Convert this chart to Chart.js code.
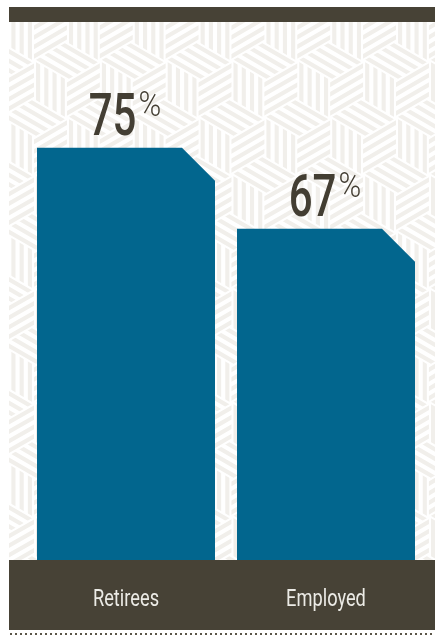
<!DOCTYPE html>
<html>
<head>
<meta charset="utf-8">
<script src="https://cdn.jsdelivr.net/npm/chart.js"></script>
<style>
  html, body { margin: 0; padding: 0; background: #ffffff; }
  #wrap { width: 435px; height: 636px; }
</style>
</head>
<body>
<div id="wrap"><canvas id="barChart" width="435" height="636"></canvas></div>
<script>
// 1. Data
const categories = ["Retirees", "Employed"];
const percentValues = [75, 67];

// 2. Colours
const DARK = "#474236";
const BAR_BLUE = "#02668e";
const STRIPE = "#f1efeb";
const NUM_COLOR = "#433e33";
const LABEL_COLOR = "#ecebe6";

// 3. Background pattern (tumbling blocks with stripes)
function stripeFace(ctx, pts, ax, ay, dx, dy, p, s) {
    ctx.save();
    ctx.beginPath();
    ctx.moveTo(pts[0][0], pts[0][1]);
    for (let i = 1; i < pts.length; i++) ctx.lineTo(pts[i][0], pts[i][1]);
    ctx.closePath();
    ctx.clip();
    const nx = -dy, ny = dx;
    ctx.beginPath();
    for (let k = -8; k <= 8; k++) {
        const mx = ax + nx * (k + 0.5) * p;
        const my = ay + ny * (k + 0.5) * p;
        ctx.moveTo(mx - dx * 2 * s, my - dy * 2 * s);
        ctx.lineTo(mx + dx * 2 * s, my + dy * 2 * s);
    }
    ctx.stroke();
    ctx.restore();
}

function drawCube(ctx, cx, cy, s, w, p) {
    const T = [cx, cy - s], UR = [cx + w / 2, cy - s / 2], LR = [cx + w / 2, cy + s / 2];
    const B = [cx, cy + s], LL = [cx - w / 2, cy + s / 2], UL = [cx - w / 2, cy - s / 2];
    const C = [cx, cy];
    const c30 = Math.sqrt(3) / 2;
    stripeFace(ctx, [T, UR, C, UL], UL[0], UL[1], c30, 0.5, p, s);
    stripeFace(ctx, [UL, C, B, LL], UL[0], UL[1], 0, 1, p, s);
    stripeFace(ctx, [C, UR, LR, B], C[0], C[1], c30, -0.5, p, s);
}

function drawPattern(ctx, left, top, right, bottom) {
    const s = 38, w = s * Math.sqrt(3), p = w / 8;
    ctx.save();
    ctx.beginPath();
    ctx.rect(left, top, right - left, bottom - top);
    ctx.clip();
    ctx.strokeStyle = STRIPE;
    ctx.lineWidth = p / 2;
    for (let j = -1; 23 + j * 1.5 * s < bottom + 2 * s; j++) {
        const cy = 23 + j * 1.5 * s;
        const shift = Math.abs(j) % 2 === 1 ? w / 2 : 0;
        for (let cx = 34 + shift - 2 * w; cx < right + w; cx += w) {
            drawCube(ctx, cx, cy, s, w, p);
        }
    }
    ctx.restore();
}

// 4. Plugins
const backgroundPlugin = {
    id: "background",
    beforeDraw(chart) {
        const ctx = chart.ctx;
        const W = chart.width;
        const area = chart.chartArea;
        ctx.save();
        ctx.fillStyle = "#ffffff";
        ctx.fillRect(0, 0, W, chart.height);
        drawPattern(ctx, 9, 22, W, area.bottom);
        ctx.fillStyle = DARK;
        ctx.fillRect(9, 7, W - 9, 15);
        ctx.fillRect(9, area.bottom, W - 9, 70);
        ctx.fillStyle = "#5b5649";
        for (let x = 10; x < W; x += 5) ctx.fillRect(x, 633, 2, 2);
        ctx.restore();
    }
};

const chamferBarsPlugin = {
    id: "chamferBars",
    afterDatasetsDraw(chart) {
        const ctx = chart.ctx;
        const meta = chart.getDatasetMeta(0);
        const c = 33;
        ctx.save();
        ctx.fillStyle = BAR_BLUE;
        meta.data.forEach(bar => {
            const { x, y, base, width } = bar.getProps(["x", "y", "base", "width"], true);
            const bottom = Math.min(base, chart.chartArea.bottom);
            const left = x - width / 2, right = x + width / 2;
            ctx.beginPath();
            ctx.moveTo(left, bottom);
            ctx.lineTo(left, y);
            ctx.lineTo(right - c, y);
            ctx.lineTo(right, y + c);
            ctx.lineTo(right, bottom);
            ctx.closePath();
            ctx.fill();
        });
        ctx.restore();
    }
};

const NUM_FONT = "500 60px Roboto, sans-serif";
const PCT_FONT = "300 35px Roboto, sans-serif";
const CAT_FONT = "24px Roboto, sans-serif";

const labelsPlugin = {
    id: "labels",
    afterDraw(chart) {
        const ctx = chart.ctx;
        const meta = chart.getDatasetMeta(0);
        const xScale = chart.scales.x;
        ctx.save();
        ctx.textAlign = "left";
        ctx.textBaseline = "alphabetic";
        meta.data.forEach((bar, i) => {
            // value label: big number + small percent sign
            const num = String(percentValues[i]);
            const sx = 0.7, px = 0.88;
            ctx.font = NUM_FONT;
            const nw = ctx.measureText(num).width * sx;
            ctx.font = PCT_FONT;
            const pw = ctx.measureText("%").width * px;
            const gap = 2;
            const startX = bar.x - (nw + gap + pw) / 2 - 1;
            const baseY = bar.y - 13;
            ctx.fillStyle = NUM_COLOR;
            ctx.save();
            ctx.translate(startX, baseY);
            ctx.scale(sx, 1);
            ctx.font = NUM_FONT;
            ctx.fillText(num, 0, 0);
            ctx.restore();
            ctx.save();
            ctx.translate(startX + nw + gap, baseY - 19);
            ctx.scale(px, 1);
            ctx.font = PCT_FONT;
            ctx.fillText("%", 0, 0);
            ctx.restore();

            // category label in the dark band
            const cx = xScale.getPixelForValue(i);
            const cs = 0.76;
            ctx.save();
            ctx.font = CAT_FONT;
            const lw = ctx.measureText(categories[i]).width * cs;
            ctx.translate(cx - lw / 2, 606);
            ctx.scale(cs, 1);
            ctx.fillStyle = LABEL_COLOR;
            ctx.fillText(categories[i], 0, 0);
            ctx.restore();
        });
        ctx.restore();
    }
};

// 5. Chart
const ctx = document.getElementById("barChart").getContext("2d");
new Chart(ctx, {
    type: "bar",
    data: {
        labels: categories,
        datasets: [{
            label: "Share",
            data: percentValues,
            backgroundColor: "rgba(0,0,0,0)",
            borderWidth: 0,
            barPercentage: 0.89,
            categoryPercentage: 1
        }]
    },
    options: {
        responsive: false,
        animation: false,
        layout: { padding: { left: 26, right: 9, top: 20, bottom: 76 } },
        plugins: {
            legend: { display: false },
            tooltip: { enabled: false }
        },
        scales: {
            x: { display: false },
            y: { display: false, min: 34.3, max: 87.6 }
        }
    },
    plugins: [backgroundPlugin, chamferBarsPlugin, labelsPlugin]
});
</script>
</body>
</html>
